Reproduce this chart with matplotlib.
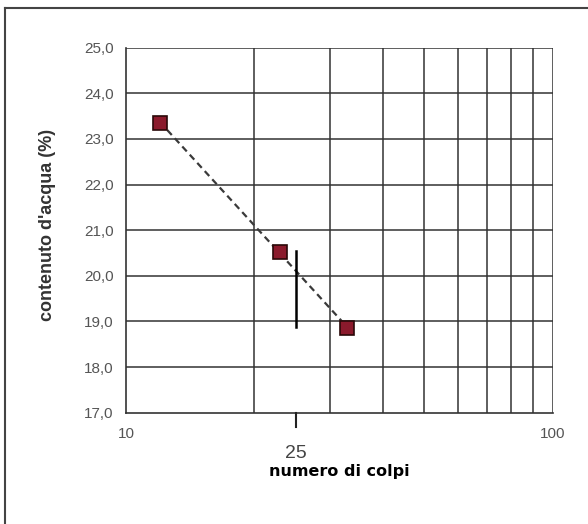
import matplotlib
matplotlib.use("Agg")
import matplotlib.pyplot as plt
import matplotlib.transforms as mtransforms
import numpy as np
from matplotlib.lines import Line2D

# Liquid limit test (Casagrande): blow count vs water content
colpi = [12.0, 23.0, 33.0]
contenuto_acqua = [23.36, 20.52, 18.85]

# vertical reading at 25 blows
x_lettura = 25
y_lettura = [18.87, 20.55]

grid_x = [20, 30, 40, 50, 60, 70, 80, 90, 100]
grid_y = [18, 19, 20, 21, 22, 23, 24, 25]
y_ticks = [17, 18, 19, 20, 21, 22, 23, 24, 25]
y_ticklabels = ["17,0", "18,0", "19,0", "20,0", "21,0", "22,0", "23,0", "24,0", "25,0"]

plt.rcParams["font.family"] = ["Liberation Sans", "DejaVu Sans"]

fig = plt.figure(figsize=(5.88, 5.24), dpi=100)
ax = fig.add_axes([0.2143, 0.2124, 0.7257, 0.6966])
ax.set_xscale("log")
ax.set_xlim(10, 100)
ax.set_ylim(17, 25)

grid_col = "#333333"
for gx in grid_x:
    ax.axvline(gx, color=grid_col, lw=1.1, zorder=1)
for gy in grid_y:
    ax.axhline(gy, color=grid_col, lw=1.1, zorder=1)

# trend line (linear fit on log x)
coef = np.polyfit(np.log10(colpi), contenuto_acqua, 1)
xs = np.array([colpi[0], colpi[-1]])
ax.plot(xs, np.polyval(coef, np.log10(xs)), color="#3a3a3a", lw=1.6,
        dashes=(3, 2), zorder=2)

ax.plot(colpi, contenuto_acqua, linestyle="none", marker="s", markersize=10,
        markerfacecolor="#8b1a2c", markeredgecolor="#2a0808", markeredgewidth=1.2,
        zorder=3)

ax.plot([x_lettura, x_lettura], y_lettura, color="black", lw=1.8, zorder=4)

ax.set_xlim(10, 100)
ax.set_ylim(17, 25)

ax.set_xticks([10, 100])
ax.set_xticklabels(["10", "100"])
ax.xaxis.set_minor_locator(matplotlib.ticker.NullLocator())
ax.tick_params(axis="x", which="major", length=0, pad=10, labelsize=11,
               labelcolor="#555555")

# the 25-blow mark below the axis
trans = mtransforms.blended_transform_factory(ax.transData, ax.transAxes)
fig.add_artist(Line2D([x_lettura, x_lettura], [0, -0.04], transform=trans,
                      color="#222222", lw=1.5, zorder=5))
ax.text(x_lettura, -0.088, "25", transform=trans,
        ha="center", va="top", fontsize=14, color="#444444")

ax.set_yticks(y_ticks)
ax.set_yticklabels(y_ticklabels)
ax.yaxis.set_minor_locator(matplotlib.ticker.NullLocator())
ax.tick_params(axis="y", length=0, pad=9, labelsize=11, labelcolor="#555555")

for side in ["top", "right"]:
    ax.spines[side].set_visible(False)
for side in ["left", "bottom"]:
    ax.spines[side].set_color(grid_col)
    ax.spines[side].set_linewidth(1.2)

ax.set_ylabel("contenuto d'acqua (%)", fontsize=13, fontweight="bold",
              color="#333333")
ax.yaxis.set_label_coords(-0.165, 0.515)
ax.set_xlabel("numero di colpi", fontsize=11.5, fontweight="bold",
              family="DejaVu Sans")
ax.xaxis.set_label_coords(0.5, -0.14)

# outer frame (left and top edges)
fig.add_artist(Line2D([4.5 / 588, 4.5 / 588], [0, 516 / 524],
                      transform=fig.transFigure, color="#444444", lw=1.5))
fig.add_artist(Line2D([4.5 / 588, 1], [516 / 524, 516 / 524],
                      transform=fig.transFigure, color="#444444", lw=1.5))

fig.savefig("out.png", dpi=100)
